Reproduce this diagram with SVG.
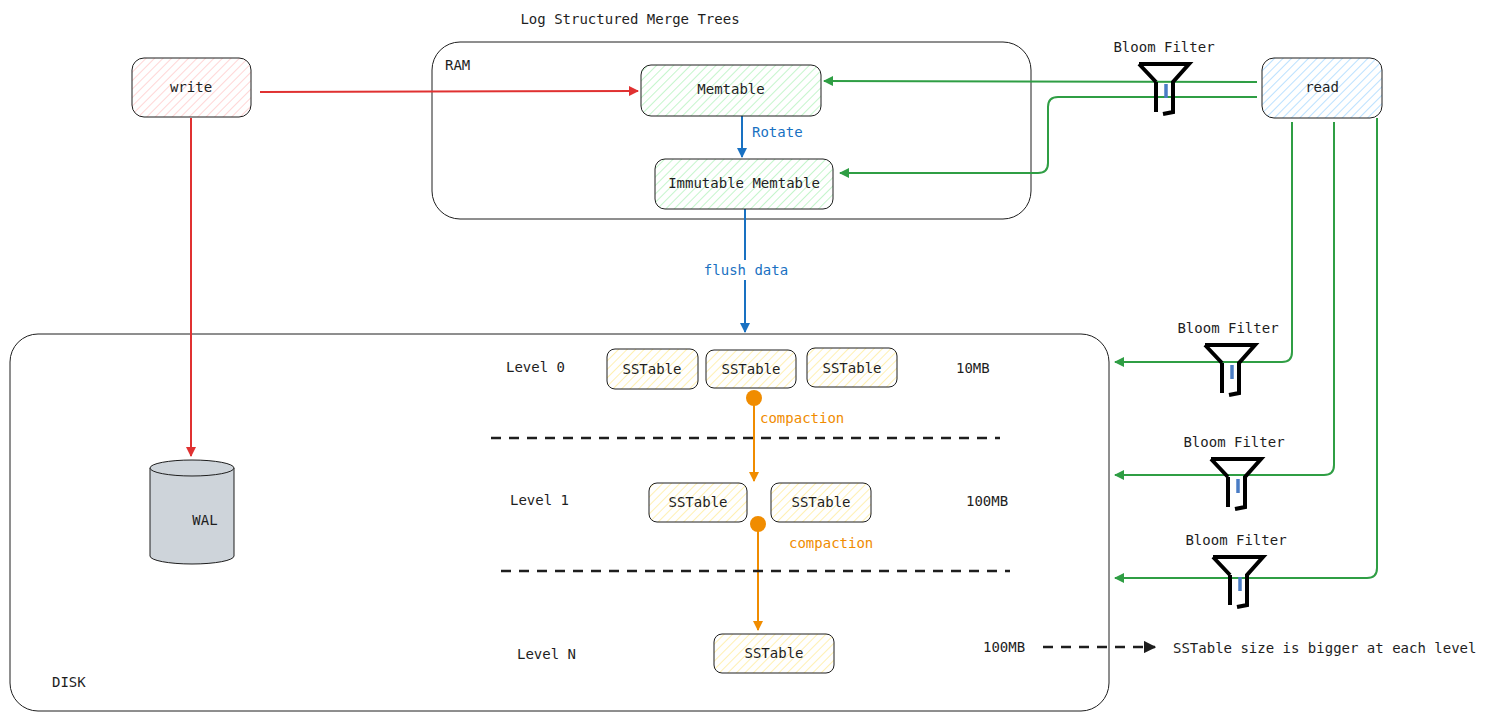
<svg xmlns="http://www.w3.org/2000/svg" width="1499" height="720" viewBox="0 0 1499 720">
<style>
text{font-family:"DejaVu Sans Mono",monospace;font-size:14px;fill:#1e1e1e}
.c{text-anchor:middle}
.box{stroke:#1e1e1e;stroke-width:1}
.big{fill:none;stroke:#1e1e1e;stroke-width:1}
.red{stroke:#e03131;stroke-width:2;fill:none}
.blue{stroke:#1971c2;stroke-width:2;fill:none}
.grn{stroke:#2f9e44;stroke-width:2;fill:none}
.org{stroke:#f08c00;stroke-width:2;fill:none}
.dash{stroke:#1e1e1e;stroke-width:2.5;stroke-dasharray:10 8;fill:none}
.flt{fill:none;stroke:#000;stroke-width:4;stroke-linejoin:miter}
</style>
<defs>
<pattern id="hr" width="6" height="6" patternUnits="userSpaceOnUse" patternTransform="rotate(45)"><rect width="6" height="6" fill="#fff"/><line x1="0" y1="0" x2="0" y2="6" stroke="#ffc9c9" stroke-width="1.5"/></pattern>
<pattern id="hb" width="6" height="6" patternUnits="userSpaceOnUse" patternTransform="rotate(45)"><rect width="6" height="6" fill="#fff"/><line x1="0" y1="0" x2="0" y2="6" stroke="#a5d8ff" stroke-width="1.5"/></pattern>
<pattern id="hg" width="6" height="6" patternUnits="userSpaceOnUse" patternTransform="rotate(45)"><rect width="6" height="6" fill="#fff"/><line x1="0" y1="0" x2="0" y2="6" stroke="#b2f2bb" stroke-width="1.5"/></pattern>
<pattern id="hy" width="6" height="6" patternUnits="userSpaceOnUse" patternTransform="rotate(45)"><rect width="6" height="6" fill="#fff"/><line x1="0" y1="0" x2="0" y2="6" stroke="#ffec99" stroke-width="1.5"/></pattern>
<marker id="ar" viewBox="0 0 10 10" refX="9" refY="5" markerWidth="5" markerHeight="5" orient="auto-start-reverse"><path d="M0,0L10,5L0,10z" fill="#e03131"/></marker>
<marker id="ab" viewBox="0 0 10 10" refX="9" refY="5" markerWidth="5" markerHeight="5" orient="auto-start-reverse"><path d="M0,0L10,5L0,10z" fill="#1971c2"/></marker>
<marker id="ag" viewBox="0 0 10 10" refX="9" refY="5" markerWidth="5" markerHeight="5" orient="auto-start-reverse"><path d="M0,0L10,5L0,10z" fill="#2f9e44"/></marker>
<marker id="ao" viewBox="0 0 10 10" refX="9" refY="5" markerWidth="5" markerHeight="5" orient="auto-start-reverse"><path d="M0,0L10,5L0,10z" fill="#f08c00"/></marker>
<marker id="ak" viewBox="0 0 10 10" refX="9" refY="5" markerWidth="5" markerHeight="5" orient="auto-start-reverse"><path d="M0,0L10,5L0,10z" fill="#1e1e1e"/></marker>
<g id="funnel"><path class="flt" d="M0,0H50L34,18V48L24,50M17,18L0,0M17,18V48"/><line x1="27" y1="20" x2="27" y2="34" stroke="#4a7cc4" stroke-width="3.5"/></g>
</defs>
<rect width="1499" height="720" fill="#fff"/>
<text x="630" y="24" class="c">Log Structured Merge Trees</text>

<g id="ram"><rect x="432" y="42" width="599" height="177" rx="28" class="big"/><text x="445" y="70">RAM</text></g>
<g id="disk"><rect x="10" y="334" width="1099" height="377" rx="28" class="big"/><text x="52" y="687">DISK</text></g>

<g id="connectors">
<path class="red" d="M260,92L638,91" marker-end="url(#ar)"/>
<path class="red" d="M191,118V456" marker-end="url(#ar)"/>
<path class="blue" d="M742,116V157" marker-end="url(#ab)"/>
<path class="blue" d="M745,208V332" marker-end="url(#ab)"/>
<rect x="700" y="260" width="92" height="20" fill="#fff"/>
<path class="grn" d="M1257,82L824,81" marker-end="url(#ag)"/>
<path class="grn" d="M1257,97H1058Q1048,97 1048,107V163Q1048,173 1038,173H840" marker-end="url(#ag)"/>
<path class="grn" d="M1292,122V352Q1292,362 1282,362H1115" marker-end="url(#ag)"/>
<path class="grn" d="M1334,122V465Q1334,475 1324,475H1115" marker-end="url(#ag)"/>
<path class="grn" d="M1377,118V568Q1377,578 1367,578H1115" marker-end="url(#ag)"/>
<circle cx="754" cy="398" r="8" fill="#f08c00"/>
<path class="org" d="M754,398V481" marker-end="url(#ao)"/>
<circle cx="758" cy="524" r="8" fill="#f08c00"/>
<path class="org" d="M758,524V630" marker-end="url(#ao)"/>
<path class="dash" d="M491,438H1000"/>
<path class="dash" d="M501,571H1010"/>
<path class="dash" d="M1043,647H1155" marker-end="url(#ak)"/>
</g>
<text x="752" y="137" style="fill:#1971c2">Rotate</text>
<text x="746" y="275" class="c" style="fill:#1971c2">flush data</text>
<text x="760" y="423" style="fill:#f08c00">compaction</text>
<text x="789" y="548" style="fill:#f08c00">compaction</text>

<g id="write"><rect x="132" y="58" width="119" height="59" rx="12" fill="url(#hr)" class="box"/><text x="191" y="92" class="c">write</text></g>
<g id="read"><rect x="1262" y="58" width="120" height="60" rx="12" fill="url(#hb)" class="box"/><text x="1322" y="92" class="c">read</text></g>
<g id="memtable"><rect x="641" y="65" width="180" height="51" rx="10" fill="url(#hg)" class="box"/><text x="731" y="94" class="c">Memtable</text></g>
<g id="immutable"><rect x="655" y="159" width="178" height="50" rx="10" fill="url(#hg)" class="box"/><text x="744" y="188" class="c">Immutable Memtable</text></g>

<g id="ss1"><rect x="607" y="349" width="91" height="40" rx="8" fill="url(#hy)" class="box"/><text x="652" y="374" class="c">SSTable</text></g>
<g id="ss2"><rect x="706" y="350" width="90" height="38" rx="8" fill="url(#hy)" class="box"/><text x="751" y="374" class="c">SSTable</text></g>
<g id="ss3"><rect x="807" y="348" width="90" height="39" rx="8" fill="url(#hy)" class="box"/><text x="852" y="373" class="c">SSTable</text></g>
<g id="ss4"><rect x="649" y="483" width="98" height="39" rx="8" fill="url(#hy)" class="box"/><text x="698" y="507" class="c">SSTable</text></g>
<g id="ss5"><rect x="771" y="483" width="100" height="39" rx="8" fill="url(#hy)" class="box"/><text x="821" y="507" class="c">SSTable</text></g>
<g id="ss6"><rect x="714" y="634" width="120" height="39" rx="8" fill="url(#hy)" class="box"/><text x="774" y="658" class="c">SSTable</text></g>

<g id="wal"><path d="M150,468V556A42,8 0 0 0 234,556V468" fill="#ced4da" stroke="#1e1e1e"/><ellipse cx="192" cy="468" rx="42" ry="8" fill="#ced4da" stroke="#1e1e1e"/><text x="205" y="525" class="c">WAL</text></g>

<text x="506" y="372">Level 0</text>
<text x="510" y="505">Level 1</text>
<text x="517" y="659">Level N</text>
<text x="956" y="373">10MB</text>
<text x="966" y="506">100MB</text>
<text x="983" y="652">100MB</text>
<text x="1173" y="653">SSTable size is bigger at each level</text>

<g id="bf1"><text x="1164" y="52" class="c">Bloom Filter</text><use href="#funnel" x="1139" y="64"/></g>
<g id="bf2"><text x="1228" y="333" class="c">Bloom Filter</text><use href="#funnel" x="1205" y="345"/></g>
<g id="bf3"><text x="1234" y="447" class="c">Bloom Filter</text><use href="#funnel" x="1211" y="459"/></g>
<g id="bf4"><text x="1236" y="545" class="c">Bloom Filter</text><use href="#funnel" x="1213" y="557"/></g>
</svg>
